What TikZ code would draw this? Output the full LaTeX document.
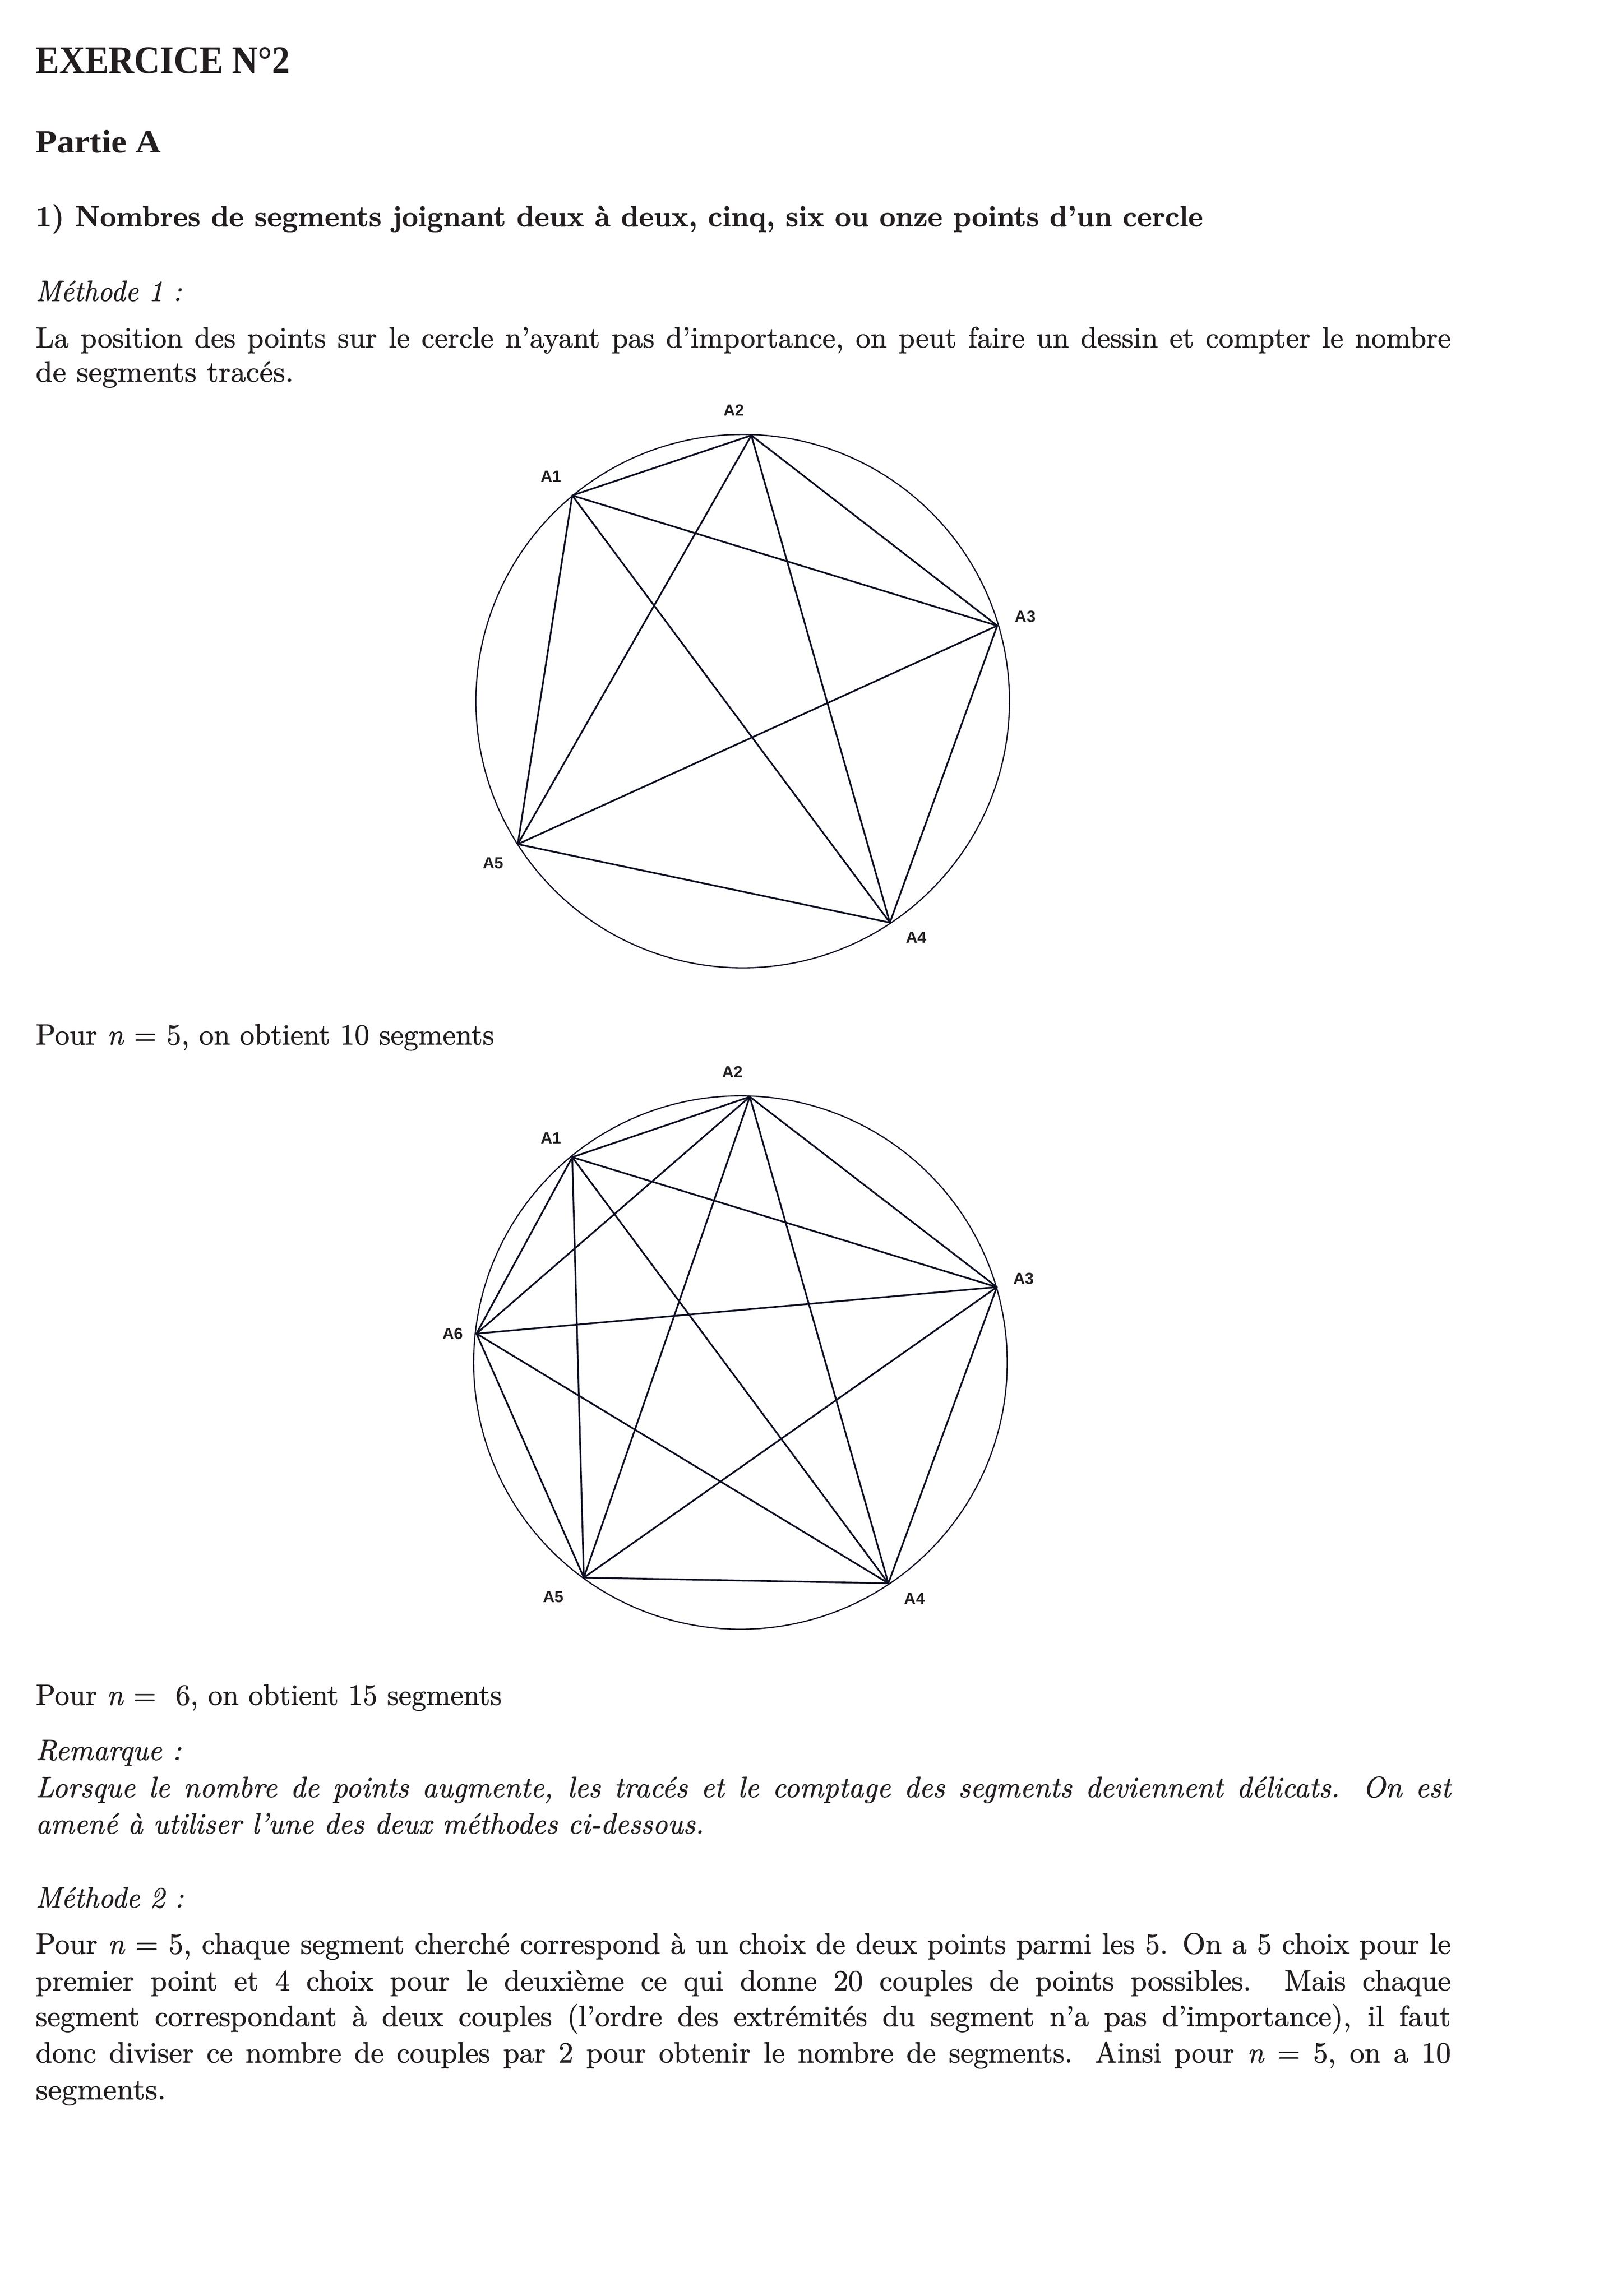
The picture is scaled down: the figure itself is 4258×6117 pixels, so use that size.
\documentclass[tikz,border=0pt]{standalone}
\usepackage{fontspec}
\usepackage{graphicx}
\setmainfont{Latin Modern Roman}[UprightFeatures={FakeBold=1},ItalicFeatures={FakeBold=1},BoldFeatures={FakeBold=0.8}]
\newfontfamily\headfont{Liberation Serif}
\newfontfamily\lblfont{Liberation Sans}
\newlength\pxu
\setlength\pxu{0.0049319cm}
\definecolor{ink}{RGB}{35,31,32}
\definecolor{lineink}{RGB}{12,14,34}
\newcommand\fitw[2]{\resizebox{#1\pxu}{\height}{#2}}
\newcommand\fitwh[3]{\resizebox{#1\pxu}{#2\pxu}{#3}}
\newcommand\justl[1]{\makebox[3769\pxu][s]{#1}}
\tikzset{
  txt/.style={anchor=base west, inner sep=0pt, outer sep=0pt, text=ink, font=\fontsize{11}{13}\selectfont},
  lbl/.style={inner sep=0pt, outer sep=0pt, text=ink, font=\lblfont\fontsize{6}{7}\selectfont\bfseries},
  chord/.style={line width=0.63pt, draw=lineink, line cap=round, line join=round},
  rim/.style={line width=0.45pt, draw=lineink},
}
\begin{document}
\begin{tikzpicture}[x=0.0049319cm, y=-0.0049319cm]
\useasboundingbox (0,0) rectangle (4258,6117);
\fill[white] (0,0) rectangle (4258,6117);

% ---- text, top ----
\node[txt] (title) at (95,195) {\fitwh{677}{69}{\headfont\fontsize{14.5}{16}\selectfont\bfseries EXERCICE N°2}};
\node[txt] (partie) at (95,407) {\fitwh{333}{60}{\headfont\fontsize{12.7}{14}\selectfont\bfseries Partie A}};
\node[txt] (q1) at (95,603) {\fitw{3109}{\bfseries 1) Nombres de segments joignant deux à deux, cinq, six ou onze points d’un cercle}};
\node[txt] (m1) at (95,802) {\fitw{389}{\itshape Méthode 1 :}};
\node[txt] (p1a) at (95,926) {\justl{La position des points sur le cercle n’ayant pas d’importance, on peut faire un dessin et compter le nombre}};
\node[txt] (p1b) at (95,1017) {\fitw{687}{de segments tracés.}};

% ---- diagram 1 ----
\coordinate (c1) at (1978,1868);
\draw[rim] (c1) circle[radius=3.5016cm];
\coordinate (P1) at (1524,1320);
\coordinate (P2) at (2001,1160);
\coordinate (P3) at (2656,1667);
\coordinate (P4) at (2370,2458);
\coordinate (P5) at (1379,2249);
\foreach \a/\b in {P1/P2,P1/P3,P1/P4,P1/P5,P2/P3,P2/P4,P2/P5,P3/P4,P3/P5,P4/P5}
  \draw[chord] (\a) -- (\b);
\node[lbl] (LP1) at (1468,1269) {A1};
\node[lbl] (LP2) at (1955,1093) {A2};
\node[lbl] (LP3) at (2731,1642) {A3};
\node[lbl] (LP4) at (2440,2497) {A4};
\node[lbl] (LP5) at (1314,2300) {A5};

\node[txt] (r5) at (95,2783) {\fitw{1221}{Pour \textit{n} = 5, on obtient 10 segments}};

% ---- diagram 2 ----
\coordinate (c2) at (1972,3630);
\draw[rim] (c2) circle[radius=3.5016cm];
\coordinate (Q1) at (1524,3083);
\coordinate (Q2) at (1997,2922);
\coordinate (Q3) at (2655,3429);
\coordinate (Q4) at (2366,4218);
\coordinate (Q5) at (1555,4203);
\coordinate (Q6) at (1269,3553);
\foreach \a/\b in {Q1/Q2,Q1/Q3,Q1/Q4,Q1/Q5,Q1/Q6,Q2/Q3,Q2/Q4,Q2/Q5,Q2/Q6,Q3/Q4,Q3/Q5,Q3/Q6,Q4/Q5,Q4/Q6,Q5/Q6}
  \draw[chord] (\a) -- (\b);
\node[lbl] (LQ1) at (1468,3032) {A1};
\node[lbl] (LQ2) at (1951,2856) {A2};
\node[lbl] (LQ3) at (2727,3407) {A3};
\node[lbl] (LQ4) at (2436,4259) {A4};
\node[lbl] (LQ5) at (1474,4254) {A5};
\node[lbl] (LQ6) at (1206,3553) {A6};

% ---- text, bottom ----
\node[txt] (r6) at (95,4542) {\fitw{1241}{Pour \textit{n} = \ 6, on obtient 15 segments}};
\node[txt] (rq) at (95,4689) {\fitw{388}{\itshape Remarque :}};
\node[txt] (rqa) at (95,4788) {\itshape\justl{Lorsque le nombre de points augmente, les tracés et le comptage des segments deviennent délicats. On est}};
\node[txt] (rqb) at (95,4885) {\fitw{1780}{\itshape amené à utiliser l’une des deux méthodes ci-dessous.}};
\node[txt] (m2) at (95,5082) {\fitw{394}{\itshape Méthode 2 :}};
\node[txt] (m2a) at (95,5205) {\justl{Pour \textit{n} = 5, chaque segment cherché correspond à un choix de deux points parmi les 5. On a 5 choix pour le}};
\node[txt] (m2b) at (95,5303) {\justl{premier point et 4 choix pour le deuxième ce qui donne 20 couples de points possibles. Mais chaque}};
\node[txt] (m2c) at (95,5398) {\justl{segment correspondant à deux couples (l’ordre des extrémités du segment n’a pas d’importance), il faut}};
\node[txt] (m2d) at (95,5495) {\justl{donc diviser ce nombre de couples par 2 pour obtenir le nombre de segments. Ainsi pour \textit{n} = 5, on a 10}};
\node[txt] (m2e) at (95,5593) {\fitw{347}{segments.}};
\end{tikzpicture}
\end{document}
